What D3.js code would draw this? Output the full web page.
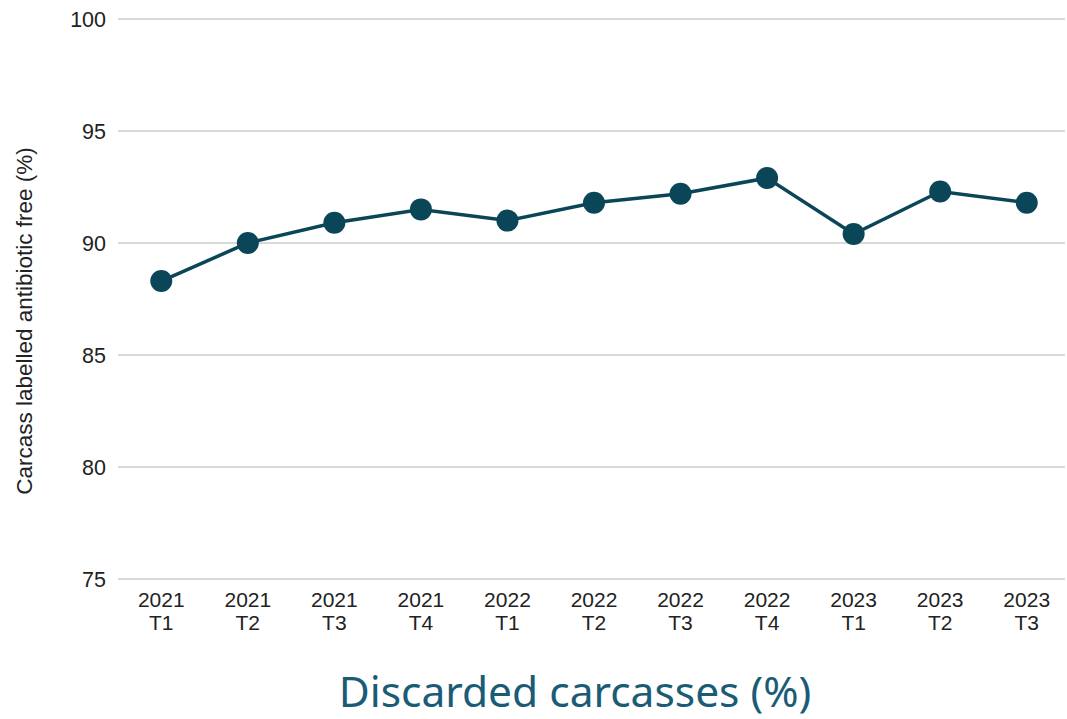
<!DOCTYPE html>
<html>
<head>
<meta charset="utf-8">
<script src="https://cdn.jsdelivr.net/npm/d3@7"></script>
<style>
html,body{margin:0;padding:0;background:#fff;}
svg{display:block;}
</style>
</head>
<body>
<svg id="chart" width="1067" height="719"></svg>
<script>
const years = ["2021","2021","2021","2021","2022","2022","2022","2022","2023","2023","2023"];
const quarters = ["T1","T2","T3","T4","T1","T2","T3","T4","T1","T2","T3"];
const values = [88.3, 90.0, 90.9, 91.5, 91.0, 91.8, 92.2, 92.9, 90.4, 92.3, 91.8];
const yTicks = [75, 80, 85, 90, 95, 100];
const title = "Discarded carcasses (%)";
const yLabel = "Carcass labelled antibiotic free (%)";

(function(){
const svg = d3.select("#chart");
const mLeft = 118, mRight = 1070, mTop = 19, mBottom = 579;
const cats = years.map((y,i)=>y+" "+quarters[i]);
const x = d3.scalePoint().domain(cats).range([mLeft, mRight]).padding(0.5);
const y = d3.scaleLinear().domain([75,100]).range([mBottom, mTop]);

// gridlines
svg.append("g").selectAll("line").data(yTicks).join("line")
  .attr("x1", mLeft).attr("x2", 1065)
  .attr("y1", d=>y(d)).attr("y2", d=>y(d))
  .attr("stroke", "#cccccc").attr("stroke-width", 1.5);

// y tick labels
svg.append("g").selectAll("text").data(yTicks).join("text")
  .attr("x", 106).attr("y", d=>y(d)).attr("dy", "0.36em")
  .attr("text-anchor", "end")
  .attr("font-family", "Liberation Sans, Arial, sans-serif")
  .attr("font-size", 21.5).attr("fill", "#222")
  .text(d=>d);

// x labels
const xl = svg.append("g").selectAll("text").data(cats).join("text")
  .attr("text-anchor", "middle")
  .attr("font-family", "Liberation Sans, Arial, sans-serif")
  .attr("font-size", 21).attr("fill", "#222");
xl.append("tspan").attr("x", d=>x(d)).attr("y", 607).text((d,i)=>years[i]);
xl.append("tspan").attr("x", d=>x(d)).attr("y", 630).text((d,i)=>quarters[i]);

// y label
svg.append("text")
  .attr("transform", "translate(32,321) rotate(-90)")
  .attr("text-anchor", "middle")
  .attr("font-family", "Liberation Sans, Arial, sans-serif")
  .attr("font-size", 22.5).attr("fill", "#222")
  .text(yLabel);

// line
const line = d3.line().x((d,i)=>x(cats[i])).y(d=>y(d));
svg.append("path").datum(values)
  .attr("d", line).attr("fill", "none")
  .attr("stroke", "#0b4658").attr("stroke-width", 3.5);

svg.append("g").selectAll("circle").data(values).join("circle")
  .attr("cx", (d,i)=>x(cats[i])).attr("cy", d=>y(d)).attr("r", 11)
  .attr("fill", "#0b4658");

// title
svg.append("text")
  .attr("x", 575).attr("y", 707)
  .attr("text-anchor", "middle")
  .attr("font-family", "Noto Sans, sans-serif")
  .attr("font-size", 42.5).attr("fill", "#1a5c75")
  .text(title);
})();
</script>
</body>
</html>
